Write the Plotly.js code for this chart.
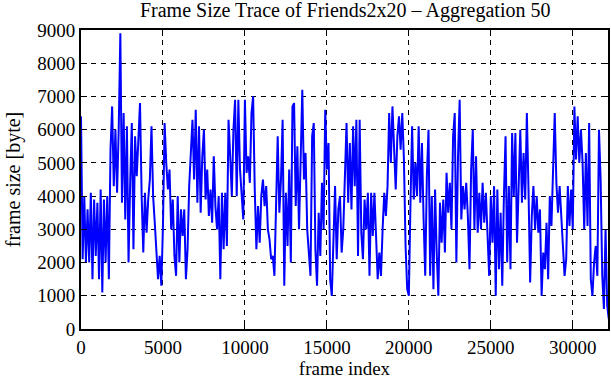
<!DOCTYPE html>
<html>
<head>
<meta charset="utf-8">
<script src="https://cdn.plot.ly/plotly-3.0.1.min.js"></script>
<style>html,body{margin:0;padding:0;background:#fff;}#chart{width:611px;height:380px;}</style>
</head>
<body>
<div id="chart"></div>
<script>
// Frame index step of the sampled trace (frames)
const frameStep = 100;
// Aggregated frame sizes [byte]
const frameSizes = [
6400,2100,4000,2000,3600,2000,4100,1500,3900,2200,3800,1500,4200,1100,3900,2000,4000,1500,5400,6700,
4300,6000,4100,6000,8900,3800,6500,3300,6100,2000,4400,6200,2400,5800,4600,6000,6800,4000,2300,4100,
2900,3900,4500,6100,4000,3200,2100,1500,2200,1300,3100,6200,5000,
4200,4800,3000,3900,2200,1600,4000,2000,3600,2800,3600,1500,2400,4300,5500,6300,4500,6600,3800,6100,
3500,5200,6000,3900,4800,3400,4200,3200,5200,3700,3000,4000,1500,4100,2400,4100,2500,6300,5200,4000,
6000,6900,4000,6900,4800,4100,3300,6900,4700,5200,4400,6500,7000,
4200,2400,3700,2600,4000,4500,3700,4300,3000,2700,2100,2200,1600,4200,5800,3500,4500,6300,1300,4100,
2500,4800,2000,6700,6800,3700,5500,3000,5200,7200,4500,5300,3000,2100,1600,5800,6200,2400,1300,3500,
2200,4400,3000,6600,4800,5600,1500,1000,2800,4300,2100,3600,4000,2300,
3000,4400,6200,3800,5600,3600,6100,4300,6300,2200,6300,2900,2100,3900,3000,4100,1600,4100,2800,4100,
2600,1500,2300,1600,3000,4100,3400,4300,6500,5000,6700,5600,4200,5800,6400,5400,6500,5100,2500,1200,
1000,3800,6100,3900,5000,4000,6100,3800,5600,3300,1600,4600,6000,1600,
4000,1200,4200,2300,1000,3800,2600,3900,2300,4700,3500,4400,3000,5800,6500,2000,5200,6900,3300,4300,
3600,4400,3400,1800,4800,6000,3000,5200,2900,4100,3000,4400,3200,4100,2700,1600,4000,2600,4300,1000,
4200,1800,3500,1300,4000,5800,2000,4300,1800,5900,4000,5900,2600,4500,6000,
3800,5300,3900,6500,4200,1400,3400,4300,3000,4000,2900,3600,1000,2300,1800,3200,1500,4000,3100,5200,
6500,4400,3500,4300,3400,2700,1600,2100,4300,3100,4200,3000,6700,5100,6400,5000,6000,5000,3000,5300,
3100,6200,1500,1000,2000,2500,1600,6000,4500,1600,600,3000,700,300
];
const frameIndex = frameSizes.map((_, i) => i * frameStep);

const titleText = "Frame Size Trace of Friends2x20 \u2013 Aggregation 50";
const xTitle = "frame index";
const yTitle = "frame size [byte]";

const FAMILY = "Times New Roman, Liberation Serif, serif";
function mkFont(size) { return {family: FAMILY, size: size, color: "#000000"}; }

function axis(extra) {
  return Object.assign({
    showline: true, linecolor: "#000", linewidth: 2, mirror: "ticks",
    ticks: "inside", ticklen: 6, tickwidth: 1, tickcolor: "#000",
    showgrid: true, gridcolor: "#000", gridwidth: 1, griddash: "5px,5px",
    zeroline: false, tickfont: mkFont(19), tickformat: "d"
  }, extra);
}

Plotly.newPlot("chart", [{
  x: frameIndex, y: frameSizes, type: "scatter", mode: "lines",
  line: {color: "#0000ff", width: 2}, hoverinfo: "skip"
}], {
  width: 611, height: 380,
  margin: {l: 81, r: 3, t: 30, b: 51},
  paper_bgcolor: "#fff", plot_bgcolor: "#fff",
  showlegend: false,
  font: mkFont(19),
  title: {text: titleText, font: mkFont(20), x: 0.565, xanchor: "center", yref: "container", y: 0.992, yanchor: "top"},
  xaxis: axis({
    range: [0, 32150], tickmode: "linear", tick0: 0, dtick: 5000,
    title: {text: xTitle, font: mkFont(19), standoff: 2}
  }),
  yaxis: axis({
    range: [0, 9000], tickmode: "linear", tick0: 0, dtick: 1000,
    title: {text: yTitle, font: mkFont(20), standoff: 11}
  })
}, {displayModeBar: false, staticPlot: true});
</script>
</body>
</html>
